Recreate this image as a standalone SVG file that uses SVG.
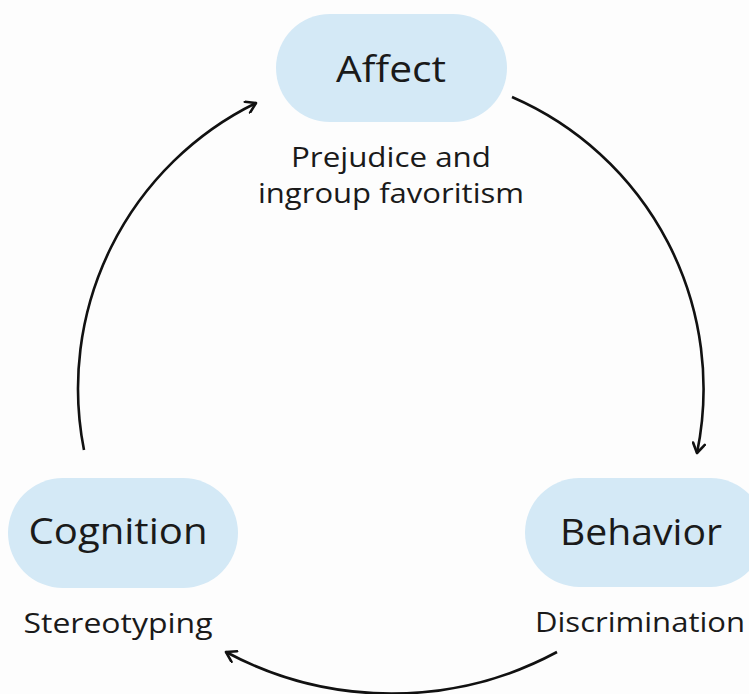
<svg xmlns="http://www.w3.org/2000/svg" width="749" height="694" viewBox="0 0 749 694">
<defs>
<style>
.pill{fill:#d4e9f6;}
.title{font-family:"Open Sans","Noto Sans",sans-serif;font-size:37px;fill:#1a1a1a;text-anchor:middle;}
.label{font-family:"Open Sans","Noto Sans",sans-serif;font-size:27px;fill:#1a1a1a;text-anchor:middle;}
.conn{fill:none;stroke:#111;stroke-width:2.6;marker-end:url(#arr);}
</style>
<marker id="arr" viewBox="0 0 14 14" refX="12" refY="7" markerWidth="14" markerHeight="14" markerUnits="userSpaceOnUse" orient="auto">
<path d="M2.5,1 L12,7 L2.5,13" fill="none" stroke="#111" stroke-width="2.6" stroke-linecap="round" stroke-linejoin="round"/>
</marker>
</defs>
<rect width="749" height="694" fill="#fdfdfd"/>
<g id="connectors">
<path class="conn" d="M84,450 A318,318 0 0 1 256,103"/>
<path class="conn" d="M512,97 A318,318 0 0 1 697,453"/>
<path class="conn" d="M557,652 A350,350 0 0 1 226,652"/>
</g>
<g id="affect">
<rect class="pill" x="276" y="14" width="231" height="108" rx="54"/>
<text class="title" x="391" y="82" textLength="110" lengthAdjust="spacingAndGlyphs">Affect</text>
<text class="label" x="391" y="167" textLength="200" lengthAdjust="spacingAndGlyphs">Prejudice and</text>
<text class="label" x="391" y="203" textLength="266" lengthAdjust="spacingAndGlyphs">ingroup favoritism</text>
</g>
<g id="cognition">
<rect class="pill" x="8" y="478" width="230" height="110" rx="55"/>
<text class="title" x="118" y="544" textLength="179" lengthAdjust="spacingAndGlyphs">Cognition</text>
<text class="label" x="118" y="633" textLength="189" lengthAdjust="spacingAndGlyphs">Stereotyping</text>
</g>
<g id="behavior">
<rect class="pill" x="525" y="478" width="240" height="109" rx="54.5"/>
<text class="title" x="641" y="545" textLength="162" lengthAdjust="spacingAndGlyphs">Behavior</text>
<text class="label" x="640" y="632" textLength="210" lengthAdjust="spacingAndGlyphs">Discrimination</text>
</g>
</svg>
